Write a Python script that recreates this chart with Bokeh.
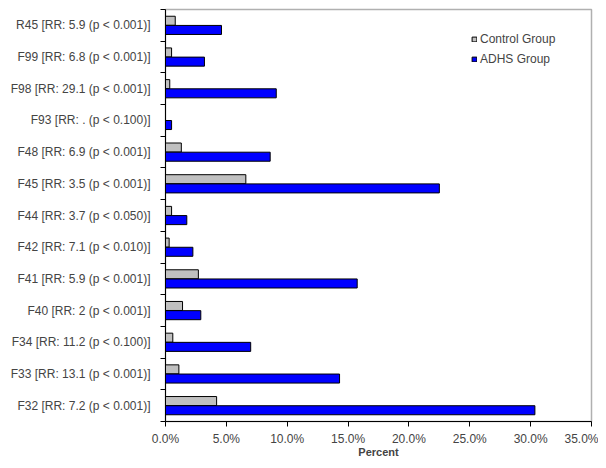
from bokeh.plotting import figure
from bokeh.models import Range1d, FixedTicker, PrintfTickFormatter, Legend, LegendItem, ColumnDataSource
from bokeh.embed import file_html
from bokeh.resources import INLINE

# Data (bottom to top)
categories = [
    "F32 [RR: 7.2 (p < 0.001)]",
    "F33 [RR: 13.1 (p < 0.001)]",
    "F34 [RR: 11.2 (p < 0.100)]",
    "F40 [RR: 2 (p < 0.001)]",
    "F41 [RR: 5.9 (p < 0.001)]",
    "F42 [RR: 7.1 (p < 0.010)]",
    "F44 [RR: 3.7 (p < 0.050)]",
    "F45 [RR: 3.5 (p < 0.001)]",
    "F48 [RR: 6.9 (p < 0.001)]",
    "F93 [RR: . (p < 0.100)]",
    "F98 [RR: 29.1 (p < 0.001)]",
    "F99 [RR: 6.8 (p < 0.001)]",
    "R45 [RR: 5.9 (p < 0.001)]",
]
control = [4.2, 1.1, 0.6, 1.4, 2.7, 0.3, 0.5, 6.6, 1.3, 0.0, 0.35, 0.5, 0.8]
adhs = [30.35, 14.3, 7.0, 2.9, 15.75, 2.25, 1.75, 22.5, 8.6, 0.5, 9.1, 3.2, 4.6]
x_ticks = [0, 5, 10, 15, 20, 25, 30, 35]
series_names = ["Control Group", "ADHS Group"]
x_title = "Percent"

FONT = "Liberation Sans"
n = len(categories)
idx = list(range(n))
bar_h = 0.285
off = 0.145

src = ColumnDataSource(dict(
    yc=[i + off for i in idx],
    ya=[i - off for i in idx],
    control=control,
    adhs=adhs,
))

p = figure(width=598, height=460, output_backend="svg", toolbar_location=None,
           x_range=Range1d(0, 35), y_range=Range1d(-0.5, n - 0.5),
           min_border_left=165, min_border_right=7, min_border_top=9, min_border_bottom=38)

r1 = p.hbar(y="yc", left=0, right="control", height=bar_h, source=src,
            fill_color="#c0c0c0", line_color="black", line_width=1)
r2 = p.hbar(y="ya", left=0, right="adhs", height=bar_h, source=src,
            fill_color="#0000ff", line_color="black", line_width=1)

p.xgrid.visible = False
p.ygrid.visible = False
p.background_fill_color = "white"
p.border_fill_color = "white"
p.outline_line_color = "#b0b0b0"
p.outline_line_width = 1.5

# x axis
xa = p.xaxis[0]
xa.ticker = FixedTicker(ticks=x_ticks)
xa.formatter = PrintfTickFormatter(format="%.1f%%")
xa.axis_label = x_title
xa.axis_label_text_font = FONT
xa.axis_label_text_font_style = "bold"
xa.axis_label_text_font_size = "11px"
xa.axis_label_standoff = -3
xa.major_label_text_font = FONT
xa.major_label_text_font_size = "12px"
xa.major_label_standoff = 5
xa.major_tick_out = 5
xa.major_tick_in = 0
xa.axis_line_color = "black"
xa.major_tick_line_color = "black"
xa.minor_tick_line_color = None

# y axis
ya = p.yaxis[0]
ya.ticker = FixedTicker(ticks=idx, minor_ticks=[i - 0.5 for i in range(n + 1)])
ya.major_label_overrides = {i: c for i, c in zip(idx, categories)}
ya.major_label_text_font = FONT
ya.major_label_text_font_size = "12px"
ya.major_label_standoff = 10
ya.major_tick_line_color = None
ya.major_tick_out = 0
ya.major_tick_in = 0
ya.minor_tick_line_color = "black"
ya.minor_tick_out = 5
ya.minor_tick_in = 0
ya.axis_line_color = "black"

legend = Legend(items=[LegendItem(label=series_names[0], renderers=[r1]),
                       LegendItem(label=series_names[1], renderers=[r2])],
                location=(306, 355), padding=0, margin=0, spacing=6,
                label_height=14, glyph_width=6, glyph_height=6, label_standoff=3,
                label_text_font=FONT, label_text_font_size="12px",
                border_line_color=None, background_fill_alpha=0)
p.add_layout(legend)

open("out.html", "w").write(file_html(p, INLINE))
